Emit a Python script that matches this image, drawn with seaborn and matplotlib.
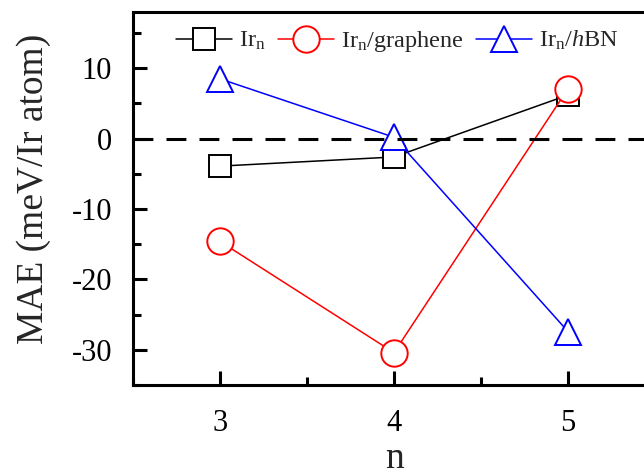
import matplotlib
matplotlib.use("Agg")
import matplotlib.pyplot as plt
import seaborn as sns
import pandas as pd
from matplotlib.ticker import MultipleLocator

n_values = [3, 4, 5]
ir_n = [-3.9, -2.6, 6.2]
ir_graphene = [-14.6, -30.4, 7.1]
ir_hbn = [8.5, 0.2, -27.4]
labels = [r"Ir$_\mathregular{n}$", r"Ir$_\mathregular{n}$/graphene", r"Ir$_\mathregular{n}$/$h$BN"]

sns.set_theme(style="ticks")
plt.rcParams["font.family"] = ["Liberation Serif", "DejaVu Serif"]
plt.rcParams["mathtext.fontset"] = "custom"
plt.rcParams["mathtext.rm"] = "Liberation Serif"
plt.rcParams["mathtext.it"] = "Liberation Serif:italic"
plt.rcParams["axes.unicode_minus"] = False

fig = plt.figure(figsize=(6.44, 4.75), dpi=100)
ax = fig.add_axes([133/644, 1-385/475, 522/644, (385-12)/475])

styles = [
    (ir_n, "black", "s", 16),
    (ir_graphene, "red", "o", 19),
    (ir_hbn, "blue", "^", 19),
]
for (vals, col, mk, ms), lab in zip(styles, labels):
    df = pd.DataFrame({"n": n_values, "MAE": vals})
    sns.lineplot(data=df, x="n", y="MAE", ax=ax, color=col, marker=mk,
                 markersize=ms, markerfacecolor="white", markeredgecolor=col,
                 markeredgewidth=1.4, linewidth=1.1, label=lab)

ax.axhline(0, color="black", linewidth=2.2, dashes=(6.5, 4.3), zorder=5)

ax.set_xlim(2.5, 5.5)
ax.set_ylim(-35, 18)
ax.xaxis.set_major_locator(MultipleLocator(1))
ax.xaxis.set_minor_locator(MultipleLocator(0.5))
ax.yaxis.set_major_locator(MultipleLocator(10))
ax.yaxis.set_minor_locator(MultipleLocator(5))

for s in ax.spines.values():
    s.set_linewidth(2.2)
    s.set_color("black")
ax.tick_params(which="both", direction="in", width=2.2, color="black",
               top=False, right=False, labelsize=22, labelcolor="black")
ax.tick_params(which="major", length=10)
ax.tick_params(axis="x", which="major", pad=17)
ax.tick_params(axis="y", which="major", pad=15)
ax.tick_params(which="minor", length=5.5)

ax.set_xlabel("n", fontsize=27)
ax.set_ylabel("MAE (meV/Ir atom)", fontsize=27)
ax.yaxis.set_label_coords(-82/522, 196/373)
ax.xaxis.set_label_coords(0.5, -56/373)

leg = ax.legend(loc="upper left", bbox_to_anchor=(26/522, 1.0), ncol=3,
                frameon=False, fontsize=17.5, handlelength=2.3,
                columnspacing=0.5, handletextpad=0.3, borderaxespad=0.3)

fig.savefig("out.png", dpi=100)
